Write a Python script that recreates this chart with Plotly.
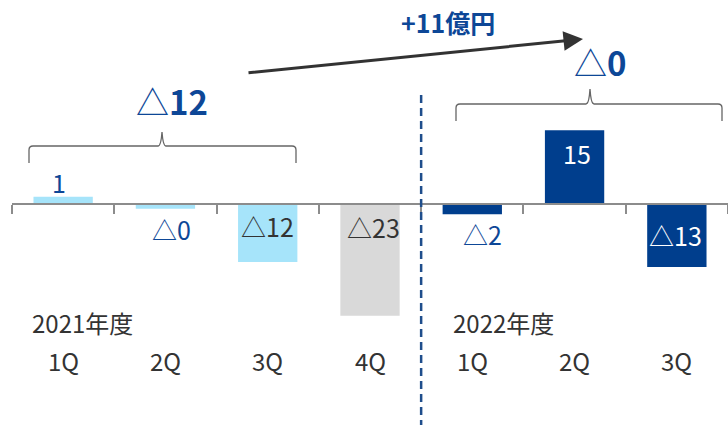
import plotly.graph_objects as go

# ---------------- data ----------------
quarters = ["1Q", "2Q", "3Q", "4Q", "1Q", "2Q", "3Q"]
fiscal_years = ["2021年度", "2022年度"]
values = [1.4, -1.1, -12.0, -23.0, -2.2, 15.0, -13.0]
value_labels = ["1", "△0", "△12", "△23", "△2", "15", "△13"]
subtotal_labels = ["△12", "△0"]
change_label = "+11億円"

# ---------------- styles ----------------
LIGHT = "#A6E4FA"
GREY = "#D9D9D9"
DARK = "#003E8D"
TXT_BLUE = "#0D4797"
TXT_GREY = "#333333"
bar_colors = [LIGHT, LIGHT, LIGHT, GREY, DARK, DARK, DARK]
label_colors = [TXT_BLUE, TXT_BLUE, TXT_GREY, TXT_GREY, TXT_BLUE, "#FFFFFF", "#FFFFFF"]
label_yshift = [15, -20, 36, 89, -20, -23, 32]
label_xshift = [-4, 6, 0, 3, 10, 2, -1]
FONT = "Noto Sans CJK JP"

W, H = 728, 425
L = 12
PW = W - L
Y0 = 203.5
PXU = 4.88


def px_x(p):
    return (p - L) / PW


def px_y(p):
    return 1 - p / H


fig = go.Figure()
fig.add_trace(go.Bar(
    x=list(range(len(values))), y=values,
    marker=dict(color=bar_colors, line=dict(width=0)),
    width=0.58, hoverinfo="skip",
))

ann = []
for i, (v, t) in enumerate(zip(values, value_labels)):
    ann.append(dict(x=i, y=v, xref="x", yref="y", text=t, showarrow=False,
                    xanchor="center", yanchor="middle",
                    xshift=label_xshift[i], yshift=label_yshift[i],
                    font=dict(family=FONT, size=25, color=label_colors[i])))

# quarter labels
for i, q in enumerate(quarters):
    ann.append(dict(x=i, y=px_y(360), xref="x", yref="paper", text=q, showarrow=False,
                    xanchor="center", yanchor="middle",
                    font=dict(family=FONT, size=24, color=TXT_GREY)))

# fiscal year labels
for fy, xp in zip(fiscal_years, [30, 451]):
    ann.append(dict(x=px_x(xp), y=px_y(322), xref="paper", yref="paper", text=fy,
                    showarrow=False, xanchor="left", yanchor="middle",
                    font=dict(family=FONT, size=24, color=TXT_GREY)))

# subtotal labels
for t, (xp, yp) in zip(subtotal_labels, [(172, 101), (600, 62)]):
    ann.append(dict(x=px_x(xp), y=px_y(yp), xref="paper", yref="paper",
                    text=t[0] + "<b>" + t[1:] + "</b>",
                    showarrow=False, xanchor="center", yanchor="middle",
                    font=dict(family=FONT, size=33, color=TXT_BLUE)))

# change label + arrow
ann.append(dict(x=px_x(448), y=px_y(22), xref="paper", yref="paper",
                text="<b>" + change_label + "</b>", showarrow=False,
                xanchor="center", yanchor="middle",
                font=dict(family=FONT, size=25, color=TXT_BLUE)))
ann.append(dict(x=px_x(583), y=px_y(39), ax=247 - 583, ay=73 - 39,
                xref="paper", yref="paper", axref="pixel", ayref="pixel",
                text="", showarrow=True, arrowhead=2, arrowsize=1.3,
                arrowwidth=3, arrowcolor="#333333", standoff=0))


def brace(x0, x1, xm, yh, yb, yt):
    r = 4
    pts = (
        f"M {px_x(x0)},{px_y(yb)} "
        f"L {px_x(x0)},{px_y(yh + r)} "
        f"Q {px_x(x0)},{px_y(yh)} {px_x(x0 + r)},{px_y(yh)} "
        f"L {px_x(xm - 4)},{px_y(yh)} "
        f"Q {px_x(xm - 1)},{px_y(yh)} {px_x(xm)},{px_y(yt)} "
        f"Q {px_x(xm + 1)},{px_y(yh)} {px_x(xm + 4)},{px_y(yh)} "
        f"L {px_x(x1 - r)},{px_y(yh)} "
        f"Q {px_x(x1)},{px_y(yh)} {px_x(x1)},{px_y(yh + r)} "
        f"L {px_x(x1)},{px_y(yb)}"
    )
    return dict(type="path", path=pts, xref="paper", yref="paper",
                line=dict(color="#666666", width=1.3))


shapes = [
    brace(29, 296, 162, 146, 163, 132),
    brace(456, 722, 590, 104, 121, 89),
    dict(type="line", xref="x", yref="paper", x0=3.5, x1=3.5,
         y0=px_y(95), y1=0, line=dict(color="#1F4E8C", width=2.5, dash="8px,5px")),
]

yr = [-(H - Y0) / PXU, Y0 / PXU]
fig.update_layout(
    width=W, height=H, margin=dict(l=L, r=0, t=0, b=0),
    paper_bgcolor="white", plot_bgcolor="white", showlegend=False,
    annotations=ann, shapes=shapes,
    xaxis=dict(range=[-0.5, 6.5], anchor="free", position=1 - Y0 / H,
               showline=True, linecolor="#8C8C8C", linewidth=2,
               ticks="outside", ticklen=9, tickwidth=2, tickcolor="#8C8C8C",
               tickmode="array", tickvals=[i - 0.5 for i in range(len(values) + 1)],
               showticklabels=False, showgrid=False, zeroline=False, fixedrange=True),
    yaxis=dict(range=yr, visible=False, showgrid=False, zeroline=False, fixedrange=True),
)
fig.write_html("out.html", config={"displayModeBar": False},
               post_script="document.body.style.margin='0';document.body.style.overflow='hidden';")
